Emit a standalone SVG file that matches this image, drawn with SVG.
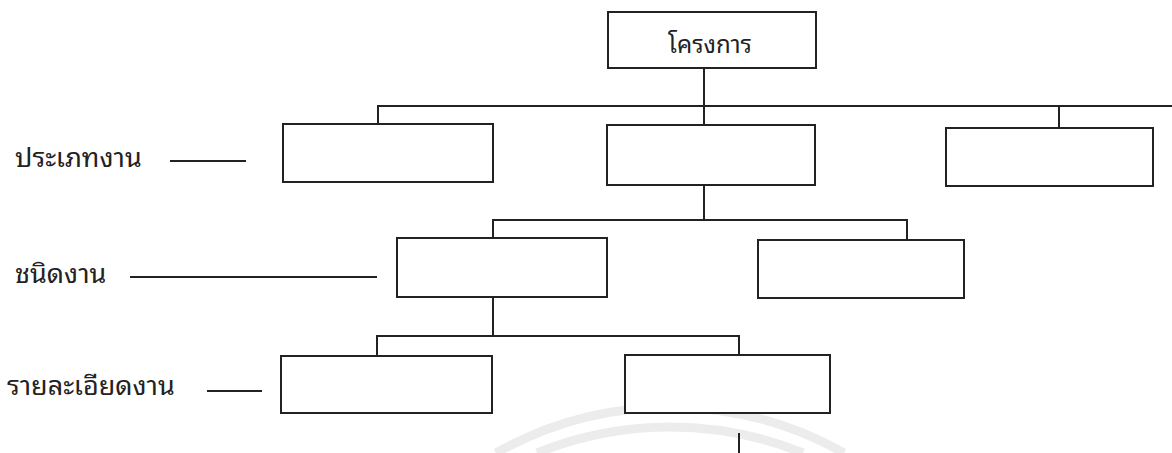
<svg xmlns="http://www.w3.org/2000/svg" width="1172" height="453" viewBox="0 0 1172 453">
<style>
.box{fill:#fff;stroke:#222;stroke-width:2}
.ln{stroke:#222;stroke-width:2;fill:none}
.lbl{font-family:"Noto Sans Thai Looped","Noto Sans Thai","Noto Sans","DejaVu Sans",sans-serif;font-size:27px;fill:#222}
.top{font-size:24px}
.wm{fill:none;stroke:#ececec;stroke-width:9}
</style>
<rect width="1172" height="453" fill="#fff"/>
<g id="watermark">
<path class="wm" d="M496,453 A353,353 0 0 1 844,453"/>
<path class="wm" d="M537,453 A353,353 0 0 1 803,453"/>
</g>
<g id="connectors">
<line class="ln" x1="704" y1="68" x2="704" y2="125"/>
<polyline class="ln" points="378,125 378,106 1172,106"/>
<line class="ln" x1="1059" y1="106" x2="1059" y2="128"/>
<line class="ln" x1="704" y1="185" x2="704" y2="220"/>
<polyline class="ln" points="493,238 493,220 907,220 907,240"/>
<line class="ln" x1="493" y1="297" x2="493" y2="336"/>
<polyline class="ln" points="377,356 377,336 739,336 739,355"/>
<line class="ln" x1="739" y1="433" x2="739" y2="453"/>
<line class="ln" x1="170" y1="161" x2="246" y2="161"/>
<line class="ln" x1="130" y1="277" x2="377" y2="277"/>
<line class="ln" x1="207" y1="391" x2="262" y2="391"/>
</g>
<g id="n-project">
<rect class="box" x="608" y="12" width="208" height="56"/>
<text class="lbl top" x="710" y="53" text-anchor="middle">โครงการ</text>
</g>
<g id="n-type1"><rect class="box" x="283" y="124" width="210" height="58"/></g>
<g id="n-type2"><rect class="box" x="607" y="125" width="208" height="60"/></g>
<g id="n-type3"><rect class="box" x="946" y="128" width="207" height="58"/></g>
<g id="n-kind1"><rect class="box" x="397" y="238" width="210" height="59"/></g>
<g id="n-kind2"><rect class="box" x="758" y="240" width="206" height="58"/></g>
<g id="n-detail1"><rect class="box" x="281" y="356" width="211" height="57"/></g>
<g id="n-detail2"><rect class="box" x="625" y="355" width="205" height="58"/></g>
<g id="labels">
<text class="lbl" x="15" y="167">ประเภทงาน</text>
<text class="lbl" x="15" y="283">ชนิดงาน</text>
<text class="lbl" x="7" y="395">รายละเอียดงาน</text>
</g>
</svg>
